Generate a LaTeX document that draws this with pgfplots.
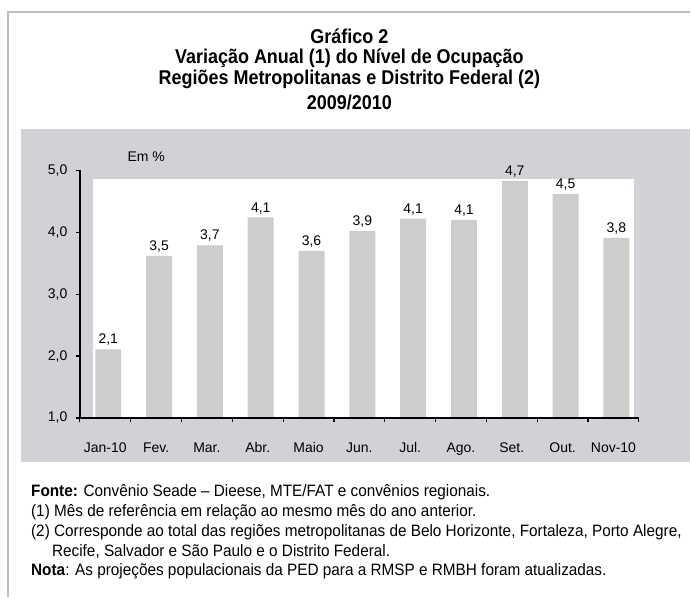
\documentclass[border=0pt]{standalone}
\usepackage{fontspec}
\setmainfont{Liberation Sans}
\newfontfamily\narrow[FakeStretch=0.9]{Liberation Sans}
\newfontfamily\footfont[FakeStretch=0.93]{Liberation Sans}
\usepackage{pgfplots}
\pgfplotsset{compat=1.18}
\usepackage{pgfplotstable}
\definecolor{panel}{RGB}{209,210,213}
\definecolor{barc}{RGB}{205,205,204}
\definecolor{framec}{RGB}{190,190,194}

\pgfplotstableread{
x y lab
0 2.11 2,1
1 3.62 3,5
2 3.79 3,7
3 4.24 4,1
4 3.70 3,6
5 4.02 3,9
6 4.22 4,1
7 4.20 4,1
8 4.83 4,7
9 4.62 4,5
10 3.91 3,8
}\data

\begin{document}
\begin{tikzpicture}
\path (0,0) rectangle (691pt,-598pt);
\fill[panel] (20.7pt,-129pt) rectangle (691pt,-463pt);
\draw[framec, line width=2.5pt] (8pt,-598pt) -- (8pt,-12pt) -- (691pt,-12pt);
\begin{scope}[every node/.style={font=\narrow\bfseries\fontsize{20}{23}\selectfont, inner sep=0}]
\node at (350pt,-36pt) {Gráfico 2};
\node at (350pt,-58pt) {Variação Anual (1) do Nível de Ocupação};
\node at (350pt,-80pt) {Regiões Metropolitanas e Distrito Federal (2)};
\node at (350pt,-103pt) {2009/2010};
\end{scope}
\node[font=\fontsize{14}{16}\selectfont] at (146.5pt,-157pt) {Em \%};
\begin{axis}[
  at={(80pt,-418.7pt)}, anchor=south west,
  scale only axis, width=560pt, height=248pt,
  xmin=-0.5, xmax=10.5, ymin=1, ymax=5,
  axis x line*=bottom, axis y line*=left,
  axis line style={black, line width=1.3pt},
  tick align=outside,
  ytick={1,2,3,4,5},
  yticklabel style={xshift=-5pt, /pgf/number format/.cd, fixed, fixed zerofill, precision=1, use comma, assume math mode=true},
  major tick length=4pt, minor tick length=4pt,
  tick style={black, line width=1.2pt},
  xtick={0,...,10},
  xticklabels={Jan-10,Fev.,Mar.,Abr.,Maio,Jun.,Jul.,Ago.,Set.,Out.,Nov-10},
  major x tick style={draw=none},
  minor xtick={-0.5,0.5,1.5,2.5,3.5,4.5,5.5,6.5,7.5,8.5,9.5,10.5},
  tick label style={font=\fontsize{14}{16}\selectfont},
  xticklabel style={text height=10pt, text depth=3pt, yshift=-17pt},
  ybar, bar width=26pt, bar shift=3pt,
  nodes near coords,
  point meta=explicit symbolic,
  every node near coord/.append style={font=\fontsize{14}{16}\selectfont, black, yshift=0pt},
  axis on top,
]
\fill[white] (axis cs:-0.25,1.02) rectangle (axis cs:10.4,4.866);
\addplot[fill=barc, draw=none] table[x=x, y=y, meta=lab] {\data};
\end{axis}
\begin{scope}[font=\footfont\fontsize{16.5}{18}\selectfont]
\node[anchor=base west, inner sep=0] at (31pt,-497pt) {\textbf{Fonte:} Convênio Seade – Dieese, MTE/FAT e convênios regionais.};
\node[anchor=base west, inner sep=0] at (31pt,-517pt) {(1) Mês de referência em relação ao mesmo mês do ano anterior.};
\node[anchor=base west, inner sep=0] at (31pt,-537pt) {(2) Corresponde ao total das regiões metropolitanas de Belo Horizonte, Fortaleza, Porto Alegre,};
\node[anchor=base west, inner sep=0] at (52pt,-557pt) {Recife, Salvador e São Paulo e o Distrito Federal.};
\node[anchor=base west, inner sep=0] at (31pt,-577pt) {\textbf{Nota}: As projeções populacionais da PED para a RMSP e RMBH foram atualizadas.};
\end{scope}
\end{tikzpicture}
\end{document}
